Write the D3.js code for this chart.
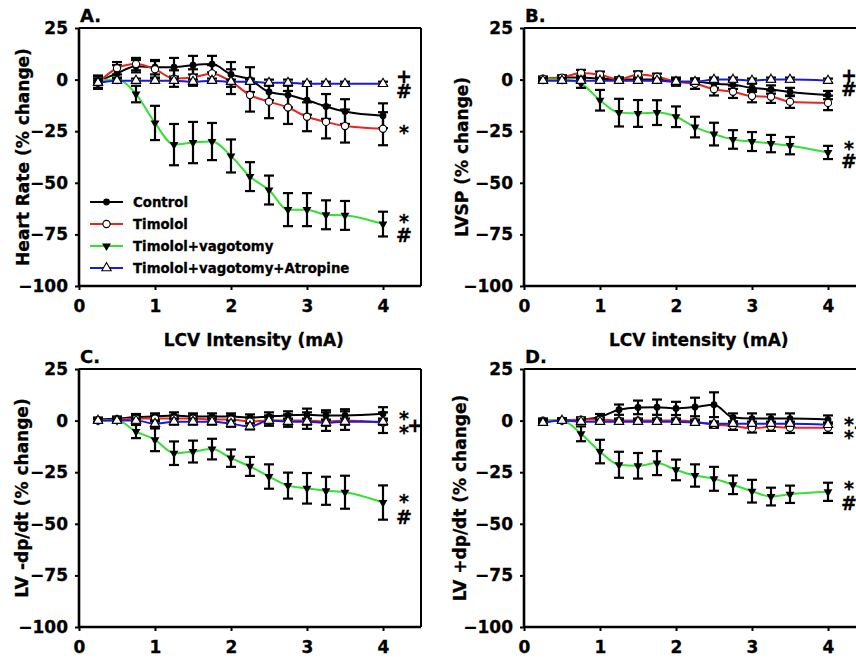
<!DOCTYPE html>
<html><head><meta charset="utf-8">
<script src="https://cdn.jsdelivr.net/npm/d3@7"></script>
<style>body{margin:0;background:#fff}svg{display:block}text{font-family:"DejaVu Sans",sans-serif;font-weight:bold;fill:#000;stroke:#000;stroke-width:0.3px}</style>
</head><body><svg id="c" width="856" height="662"></svg>
<script>
const intensity = [0.25,0.5,0.75,1,1.25,1.5,1.75,2,2.25,2.5,2.75,3,3.25,3.5,4];
const seriesNames = ["Control","Timolol","Timolol+vagotomy","Timolol+vagotomy+Atropine"];
const yTicks = [25,0,-25,-50,-75,-100];
const xTicks = [0,1,2,3,4];

// A. Heart rate
const hrControl   = [-1,3,6.5,6,6,7,7.5,2.5,0,-6,-7.5,-10,-13,-15.5,-17.5];
const hrControlSE = [3,4,3,3.5,4.5,4.5,4,6,6,4,6,7,6,6,6];
const hrTimolol   = [-1.5,5.5,7.5,5,0.5,1,3,-1,-7.5,-10.7,-13.5,-18,-20.5,-22.5,-23.8];
const hrTimololSE = [3,3,3,4,4,4,4,6,8,8,8,7,8,8,8];
const hrVag       = [-0.5,0,-7,-21,-31.5,-30.5,-30,-37,-47,-53.5,-63,-63,-65.5,-65.8,-70];
const hrVagSE     = [1,1,4,8.3,10,10,9,8,7,7,8,8,7,7,6];
const hrAtr       = [-1.5,-0.5,-0.5,-0.5,-0.5,-1,-0.5,-1,-1,-1.5,-1.5,-2,-2,-2,-2];
const hrAtrSE     = [1,1,1,1,1,1,1,1,1,1.5,1.5,1,1,1,1];

// B. LVSP
const lvspControl   = [0,1,1,0.5,0,0,0,-1,-1,-2,-2.5,-4,-4.8,-6,-7.5];
const lvspControlSE = [1,1,1,1,1,1,1,1.5,1.5,2,2,2,2,2,2];
const lvspTimolol   = [0.5,1,3.2,2.4,0,2.5,1.4,-1,-2,-4.7,-5.9,-8,-8.3,-10.7,-11.3];
const lvspTimololSE = [1,1,1.5,1.5,1,1.5,1.5,2,2.5,3,3,3,3,3,3.5];
const lvspVag       = [0,0,-2,-10,-16,-16.4,-16,-18,-23,-26.4,-29,-30,-31,-32,-35.3];
const lvspVagSE     = [0.8,0.8,2,5,6.7,6.5,6,5,5,5.5,4.5,4.6,4.2,4.2,3.2];
const lvspAtr       = [-0.5,-0.5,-0.5,-0.5,-0.5,-0.5,-0.5,-1,-1,0,0,-0.5,0,0,-0.5];
const lvspAtrSE     = [1,1,1,1,1,1,1,1,1,1,1,1,1,1,1];

// C. LV -dp/dt
const ndpControl   = [0.5,1,1.7,2,2.5,2,2,2,1.5,2,2.5,2.8,2.5,2.5,3.3];
const ndpControlSE = [1,1,1.5,1.5,1.5,1.5,1.5,1.5,1.5,2,2,3,2.5,3,3.2];
const ndpTimolol   = [0,0.5,1,1,1,1,0.5,0.5,-0.5,0,0,0,-0.5,0,-1];
const ndpTimololSE = [1,1,1.5,1.5,1.5,1.5,1.5,2,2,2.5,3,4,4.5,4.5,5];
const ndpVag       = [0,0,-5.3,-9.3,-15.8,-15,-13.8,-18.2,-22.2,-27.1,-31.5,-32.8,-34,-34.7,-39.7];
const ndpVagSE     = [0.8,0.8,3.2,5.5,5.7,5.3,5,4.2,4.6,5.9,6.3,7.4,6.8,8,8.3];
const ndpAtr       = [0,0,0,-1.5,-0.5,-0.5,-0.5,-1.5,-2.8,0,-0.5,-0.5,-1,-0.5,-0.5];
const ndpAtrSE     = [1,1,1,1.5,1.5,1.5,1.5,1.5,1.5,1.5,1.5,1.5,1.5,1.5,1.5];

// D. LV +dp/dt
const pdpControl   = [-0.5,0,0.5,1.7,5.3,6.4,6.5,5.9,6.6,7.7,1.5,1,1,1,0.5];
const pdpControlSE = [1,1,1,1.5,2.5,3.3,3.7,3.2,4.5,6,2,2.5,2,2.5,2];
const pdpTimolol   = [0,0,0.5,0.5,0,0,0,0,-0.5,-2,-2.5,-3.8,-3,-3.5,-3.5];
const pdpTimololSE = [1,1,1,1,1,1,1,1,1,1.5,2,2,2,2.5,2.5];
const pdpVag       = [0,0,-6.4,-15,-21.4,-21.9,-20.6,-23.9,-26.6,-28.2,-31.1,-34.2,-36.8,-35.7,-34.5];
const pdpVagSE     = [0.8,0.8,3.6,5.7,6.3,6.2,5.8,5,5.4,5.8,4.5,5.5,4.3,4.2,4.4];
const pdpAtr       = [-1,0,-0.5,-0.5,-0.5,-0.5,-0.5,-0.5,-1,-1.5,-1.5,-1.5,-1.5,-1.5,-2];
const pdpAtrSE     = [1,1,1,1,1,1,1,1,1,1,1,1,1,1,1];

const colors = ["#000000","#e8261e","#33e033","#1a1add"];
const markers = ["dotFilled","dotOpen","triDown","triUp"];

const panels = [
  {label:"A.", ytitle:"Heart Rate (% change)", xtitle:"LCV Intensity (mA)", left:79, top:28, bottom:286, ytx:23,
   means:[hrControl,hrTimolol,hrVag,hrAtr], errs:[hrControlSE,hrTimololSE,hrVagSE,hrAtrSE], legend:true,
   notes:[["+",76],["#",91],["*",132],["*",221],["#",235]]},
  {label:"B.", ytitle:"LVSP (% change)", xtitle:"LCV intensity (mA)", left:524, top:28, bottom:286, ytx:462,
   means:[lvspControl,lvspTimolol,lvspVag,lvspAtr], errs:[lvspControlSE,lvspTimololSE,lvspVagSE,lvspAtrSE],
   notes:[["+",75],["#",89],["*",148],["#",161]]},
  {label:"C.", ytitle:"LV -dp/dt (% change)", xtitle:null, left:79, top:369, bottom:627, ytx:22,
   means:[ndpControl,ndpTimolol,ndpVag,ndpAtr], errs:[ndpControlSE,ndpTimololSE,ndpVagSE,ndpAtrSE],
   notes:[["*",418],["+",425,11],["*",432],["*",501],["#",517]]},
  {label:"D.", ytitle:"LV +dp/dt (% change)", xtitle:null, left:524, top:369, bottom:627, ytx:460,
   means:[pdpControl,pdpTimolol,pdpVag,pdpAtr], errs:[pdpControlSE,pdpTimololSE,pdpVagSE,pdpAtrSE],
   notes:[["*",424],["+",427,12],["*",437],["*",488],["#",503]]}
];

const svg = d3.select("#c");
const unit = 76;

function drawMarker(g, type, cx, cy) {
  if (type === "dotFilled") g.append("circle").attr("cx",cx).attr("cy",cy).attr("r",3.4).attr("fill","#000");
  else if (type === "dotOpen") g.append("circle").attr("cx",cx).attr("cy",cy).attr("r",3.6).attr("fill","#fff").attr("stroke","#000").attr("stroke-width",1.1);
  else if (type === "triDown") g.append("path").attr("d", d3.symbol(d3.symbolTriangle, 34)()).attr("transform",`translate(${cx},${cy}) rotate(180)`).attr("fill","#000");
  else g.append("path").attr("d", d3.symbol(d3.symbolTriangle, 38)()).attr("transform",`translate(${cx},${cy})`).attr("fill","#fff").attr("stroke","#000").attr("stroke-width",1.1);
}

panels.forEach(p => {
  const x = d3.scaleLinear().domain([0,4.5]).range([p.left, p.left + 4.5*unit]);
  const y = d3.scaleLinear().domain([-100,25]).range([p.bottom, p.top]);
  const g = svg.append("g");
  const right = x(4.5);

  // frame
  g.append("line").attr("x1",p.left).attr("x2",right).attr("y1",p.top).attr("y2",p.top).attr("stroke","#000").attr("stroke-width",2);
  g.append("line").attr("x1",right).attr("x2",right).attr("y1",p.top).attr("y2",p.bottom).attr("stroke","#000").attr("stroke-width",2);

  const ya = g.append("g").attr("transform",`translate(${p.left},0)`)
    .call(d3.axisLeft(y).tickValues(yTicks).tickSize(4).tickPadding(7).tickFormat(d3.format("d")));
  const xa = g.append("g").attr("transform",`translate(0,${p.bottom})`)
    .call(d3.axisBottom(x).tickValues(xTicks).tickSize(4).tickPadding(10).tickFormat(d3.format("d")));
  [ya,xa].forEach(a => {
    a.select(".domain").attr("stroke","#000").attr("stroke-width",2.6);
    a.selectAll(".tick line").attr("stroke","#000").attr("stroke-width",2);
    a.selectAll(".tick text").style("font-size","17px").style("font-family","DejaVu Sans").style("font-weight","bold").attr("fill","#000");
  });
  xa.select(".domain").attr("d", `M${p.left},0H${right}`);
  ya.select(".domain").attr("d", `M0,${p.top}V${p.bottom}`);

  // titles
  g.append("text").attr("x",p.left+1).attr("y",p.top-6).style("font-size","18px").text(p.label);
  g.append("text").attr("transform",`translate(${p.ytx},${(p.top+p.bottom)/2}) rotate(-90)`)
    .attr("text-anchor","middle").attr("dy","0.36em").style("font-size","17px").text(p.ytitle);
  if (p.xtitle) g.append("text").attr("x", x(2.3)).attr("y", p.bottom+60).attr("text-anchor","middle").style("font-size","17px").text(p.xtitle);

  // series
  const line = d3.line().x((d,i)=>x(intensity[i])).y(d=>y(d)).curve(d3.curveMonotoneX);
  p.means.forEach((m, s) => {
    const sg = g.append("g");
    sg.append("path").attr("d", line(m)).attr("fill","none").attr("stroke",colors[s]).attr("stroke-width",2);
    m.forEach((v,i) => {
      const e = p.errs[s][i], cx = x(intensity[i]);
      sg.append("line").attr("x1",cx).attr("x2",cx).attr("y1",y(v-e)).attr("y2",y(v+e)).attr("stroke","#000").attr("stroke-width",2.2);
      [v-e, v+e].forEach(t => sg.append("line").attr("x1",cx-5).attr("x2",cx+5).attr("y1",y(t)).attr("y2",y(t)).attr("stroke","#000").attr("stroke-width",2.2));
    });
    m.forEach((v,i) => drawMarker(sg, markers[s], x(intensity[i]), y(v)));
  });

  // significance notes
  p.notes.forEach(n => {
    g.append("text").attr("x", x(4) + 21 + (n[2]||0)).attr("y", n[1]).attr("dy","0.36em")
      .attr("text-anchor","middle").style("font-size","19px").text(n[0]);
  });

  // legend
  if (p.legend) {
    const lg = g.append("g");
    seriesNames.forEach((name, s) => {
      const ly = 202 + s*22;
      lg.append("line").attr("x1",90).attr("x2",123).attr("y1",ly).attr("y2",ly).attr("stroke",colors[s]).attr("stroke-width",2);
      drawMarker(lg, markers[s], 106.5, ly);
      lg.append("text").attr("x",133).attr("y",ly).attr("dy","0.36em").style("font-size","13.3px").text(name);
    });
  }
});
</script></body></html>
